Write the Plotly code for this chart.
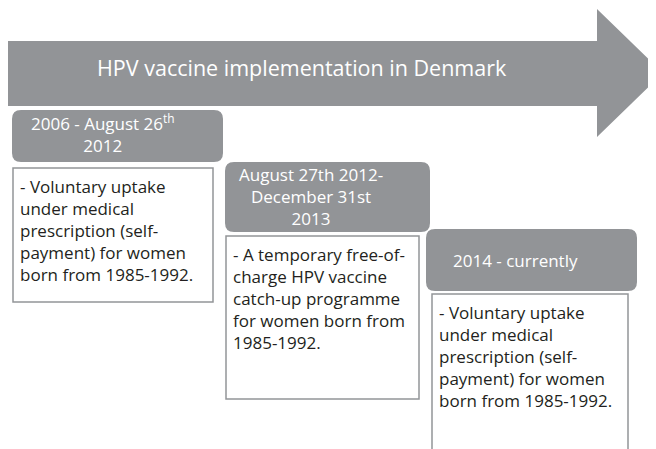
import plotly.graph_objects as go

title = "HPV vaccine implementation in Denmark"
periods = [
    "2006 - August 26<sup>th</sup><br>2012",
    "August 27th 2012-<br>December 31st<br>2013",
    "2014 - currently",
]
descriptions = [
    "- Voluntary uptake<br>under medical<br>prescription (self-<br>payment) for women<br>born from 1985-1992.",
    "- A temporary free-of-<br>charge HPV vaccine<br>catch-up programme<br>for women born from<br>1985-1992.",
    "- Voluntary uptake<br>under medical<br>prescription (self-<br>payment) for women<br>born from 1985-1992.",
]

W, H = 656, 449
OFF = 8  # default page body margin
GRAY = "#929497"
TXT = "#231f20"
FONT = "Open Sans"

# layout geometry (page pixels)
headers = [(12, 110, 223, 162), (225, 162, 430, 232), (426, 229, 637, 291)]
header_text_pos = [(103, 133), (311, 196), (515, 260)]
boxes = [(13, 168, 213, 302), (226, 236, 419, 399), (432, 294, 628, 470)]


def rrect(x0, y0, x1, y1, r):
    return (f"M{x0+r},{y0} L{x1-r},{y0} Q{x1},{y0} {x1},{y0+r} "
            f"L{x1},{y1-r} Q{x1},{y1} {x1-r},{y1} L{x0+r},{y1} "
            f"Q{x0},{y1} {x0},{y1-r} L{x0},{y0+r} Q{x0},{y0} {x0+r},{y0} Z")


shapes = []
shapes.append(dict(type="path", xref="x", yref="y",
                   path="M8,41 L597,41 L597,9 L663,73 L597,137 L597,106 L8,106 Z",
                   fillcolor=GRAY, line=dict(width=0), layer="below"))
for (x0, y0, x1, y1) in headers:
    shapes.append(dict(type="path", xref="x", yref="y", path=rrect(x0, y0, x1, y1, 9),
                       fillcolor=GRAY, line=dict(width=0)))
for (x0, y0, x1, y1) in boxes:
    shapes.append(dict(type="rect", xref="x", yref="y", x0=x0, y0=y0, x1=x1, y1=y1,
                       fillcolor="white", line=dict(color="#939598", width=1.5)))

annotations = [dict(x=302, y=67, text=title, showarrow=False, xref="x", yref="y",
                    font=dict(family=FONT, size=21.5, color="white"),
                    xanchor="center", yanchor="middle")]
for i, p in enumerate(periods):
    tx, ty = header_text_pos[i]
    annotations.append(dict(x=tx, y=ty, text=p, showarrow=False,
                            xref="x", yref="y", align="center",
                            font=dict(family=FONT, size=17, color="white"),
                            xanchor="center", yanchor="middle"))
for i, d in enumerate(descriptions):
    x0, y0, x1, y1 = boxes[i]
    annotations.append(dict(x=x0 + 5, y=y0 + 5, text=d, showarrow=False,
                            xref="x", yref="y", align="left",
                            font=dict(family=FONT, size=17, color=TXT),
                            xanchor="left", yanchor="top"))

fig = go.Figure()
fig.update_layout(
    width=W - OFF, height=H - OFF, margin=dict(l=0, r=0, t=0, b=0),
    paper_bgcolor="white", plot_bgcolor="white",
    xaxis=dict(range=[OFF, W], visible=False, fixedrange=True),
    yaxis=dict(range=[H, OFF], visible=False, fixedrange=True),
    shapes=shapes, annotations=annotations, showlegend=False,
)
fig.write_html("out.html")
